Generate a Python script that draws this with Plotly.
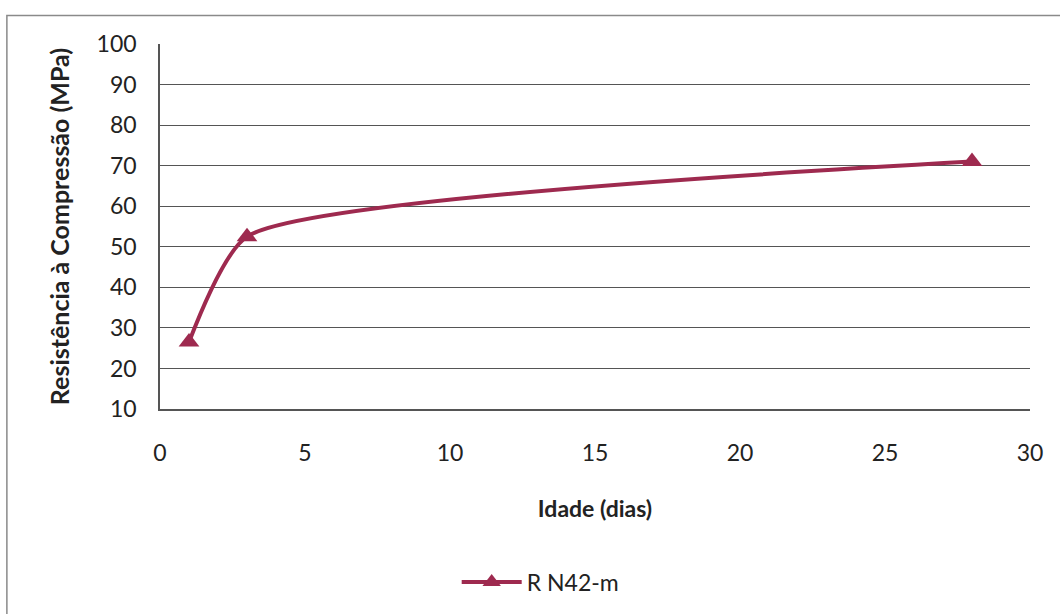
import plotly.graph_objects as go

# Compressive strength by curing age
idade_dias = [1, 3, 28]
resistencia_mpa = [26.5, 52.5, 71]
serie_nome = "R N42-m"

x_ticks = [0, 5, 10, 15, 20, 25, 30]
y_ticks = [10, 20, 30, 40, 50, 60, 70, 80, 90, 100]

cor = "#9E2A4F"
fonte = "Lato, Open Sans, sans-serif"

fig = go.Figure()
fig.add_trace(go.Scatter(
    x=idade_dias,
    y=resistencia_mpa,
    mode="lines+markers",
    name=serie_nome,
    line=dict(color=cor, width=4, shape="spline", smoothing=0.55),
    marker=dict(symbol="triangle-up", size=18, color=cor),
))

# Outer chart frame (runs past the right and bottom edges of the page)
fig.add_shape(type="rect", xref="paper", yref="paper",
              x0=-0.176, x1=1.05, y0=-0.62, y1=1.078,
              line=dict(color="#8a8a8a", width=1.5), fillcolor="rgba(0,0,0,0)",
              layer="below")

fig.update_layout(
    width=1060, height=614,
    margin=dict(l=160, r=30, t=44, b=204),
    paper_bgcolor="white", plot_bgcolor="white",
    font=dict(family=fonte, color="#222222"),
    showlegend=True,
    legend=dict(orientation="h", x=0.437, y=-0.47, xanchor="center", yanchor="middle",
                font=dict(size=23, family=fonte, color="#222222"),
                itemwidth=60),
    xaxis=dict(range=[0, 30], tickvals=x_ticks, showgrid=False,
               showline=True, linecolor="#555555", linewidth=1.5,
               zeroline=False, ticks="", tickfont=dict(size=23), ticklabelstandoff=23,
               title=dict(text="<b>Idade (dias)</b>", font=dict(size=23), standoff=36)),
    yaxis=dict(range=[10, 100], tickvals=y_ticks, showgrid=True,
               gridcolor="#555555", gridwidth=1.3,
               showline=True, linecolor="#555555", linewidth=1.5,
               zeroline=False, ticks="", tickfont=dict(size=23), ticklabelstandoff=17,
               title=dict(text="<b>Resistência à Compressão (MPa)</b>", font=dict(size=25), standoff=20)),
)

fig.write_html("out.html")
